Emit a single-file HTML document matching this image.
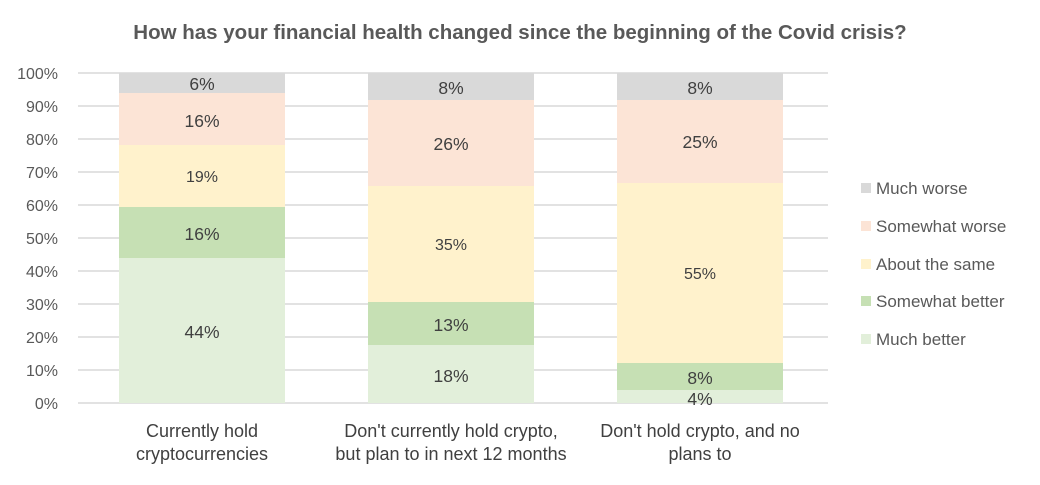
<!DOCTYPE html>
<html><head><meta charset="utf-8"><style>
body{margin:0;background:#fff;}
svg text{font-family:"Liberation Sans",sans-serif;}
</style></head><body>
<svg width="1040" height="480" xmlns="http://www.w3.org/2000/svg">
<rect width="1040" height="480" fill="#fff"/>
<text x="520" y="39" text-anchor="middle" font-size="20.5" font-weight="bold" fill="#595959">How has your financial health changed since the beginning of the Covid crisis?</text>
<g stroke="#d9d9d9" stroke-width="1.5">
<line x1="78" x2="828" y1="73" y2="73"/><line x1="78" x2="828" y1="106" y2="106"/>
<line x1="78" x2="828" y1="139" y2="139"/><line x1="78" x2="828" y1="172" y2="172"/>
<line x1="78" x2="828" y1="205" y2="205"/><line x1="78" x2="828" y1="238" y2="238"/>
<line x1="78" x2="828" y1="271" y2="271"/><line x1="78" x2="828" y1="304" y2="304"/>
<line x1="78" x2="828" y1="337" y2="337"/><line x1="78" x2="828" y1="370" y2="370"/>
<line x1="78" x2="828" y1="403" y2="403"/>
</g>
<g font-size="16" fill="#595959" text-anchor="end">
<text x="58" y="79">100%</text><text x="58" y="112">90%</text><text x="58" y="145">80%</text>
<text x="58" y="178">70%</text><text x="58" y="211">60%</text><text x="58" y="244">50%</text>
<text x="58" y="277">40%</text><text x="58" y="310">30%</text><text x="58" y="343">20%</text>
<text x="58" y="376">10%</text><text x="58" y="409">0%</text>
</g>
<rect x="119" y="258" width="166" height="145" fill="#e2efda"/>
<rect x="119" y="207" width="166" height="51" fill="#c6e0b4"/>
<rect x="119" y="145" width="166" height="62" fill="#fff2cc"/>
<rect x="119" y="93" width="166" height="52" fill="#fce4d6"/>
<rect x="119" y="73" width="166" height="20" fill="#d9d9d9"/>
<rect x="368" y="345" width="166" height="58" fill="#e2efda"/>
<rect x="368" y="302" width="166" height="43" fill="#c6e0b4"/>
<rect x="368" y="186" width="166" height="116" fill="#fff2cc"/>
<rect x="368" y="100" width="166" height="86" fill="#fce4d6"/>
<rect x="368" y="73" width="166" height="27" fill="#d9d9d9"/>
<rect x="617" y="390" width="166" height="13" fill="#e2efda"/>
<rect x="617" y="363" width="166" height="27" fill="#c6e0b4"/>
<rect x="617" y="183" width="166" height="180" fill="#fff2cc"/>
<rect x="617" y="100" width="166" height="83" fill="#fce4d6"/>
<rect x="617" y="73" width="166" height="27" fill="#d9d9d9"/>
<g font-size="17.5" fill="#404040" text-anchor="middle">
<text x="202" y="338">44%</text><text x="202" y="240">16%</text><text x="202" y="182" font-size="16">19%</text>
<text x="202" y="127">16%</text><text x="202" y="90">6%</text>
<text x="451" y="382">18%</text><text x="451" y="331">13%</text><text x="451" y="250" font-size="16">35%</text>
<text x="451" y="150">26%</text><text x="451" y="94">8%</text>
<text x="700" y="405">4%</text><text x="700" y="384">8%</text><text x="700" y="279" font-size="16">55%</text>
<text x="700" y="148">25%</text><text x="700" y="94">8%</text>
</g>
<g font-size="18" fill="#404040" text-anchor="middle">
<text x="202" y="437">Currently hold</text><text x="202" y="460">cryptocurrencies</text>
<text x="451" y="437">Don't currently hold crypto,</text><text x="451" y="460">but plan to in next 12 months</text>
<text x="700" y="437">Don't hold crypto, and no</text><text x="700" y="460">plans to</text>
</g>
<g font-size="17" fill="#595959">
<rect x="861" y="183" width="10" height="10" fill="#d9d9d9"/><text x="876" y="194">Much worse</text>
<rect x="861" y="221" width="10" height="10" fill="#fce4d6"/><text x="876" y="232">Somewhat worse</text>
<rect x="861" y="259" width="10" height="10" fill="#fff2cc"/><text x="876" y="270">About the same</text>
<rect x="861" y="296" width="10" height="10" fill="#c6e0b4"/><text x="876" y="307">Somewhat better</text>
<rect x="861" y="334" width="10" height="10" fill="#e2efda"/><text x="876" y="345">Much better</text>
</g>
</svg>
</body></html>
